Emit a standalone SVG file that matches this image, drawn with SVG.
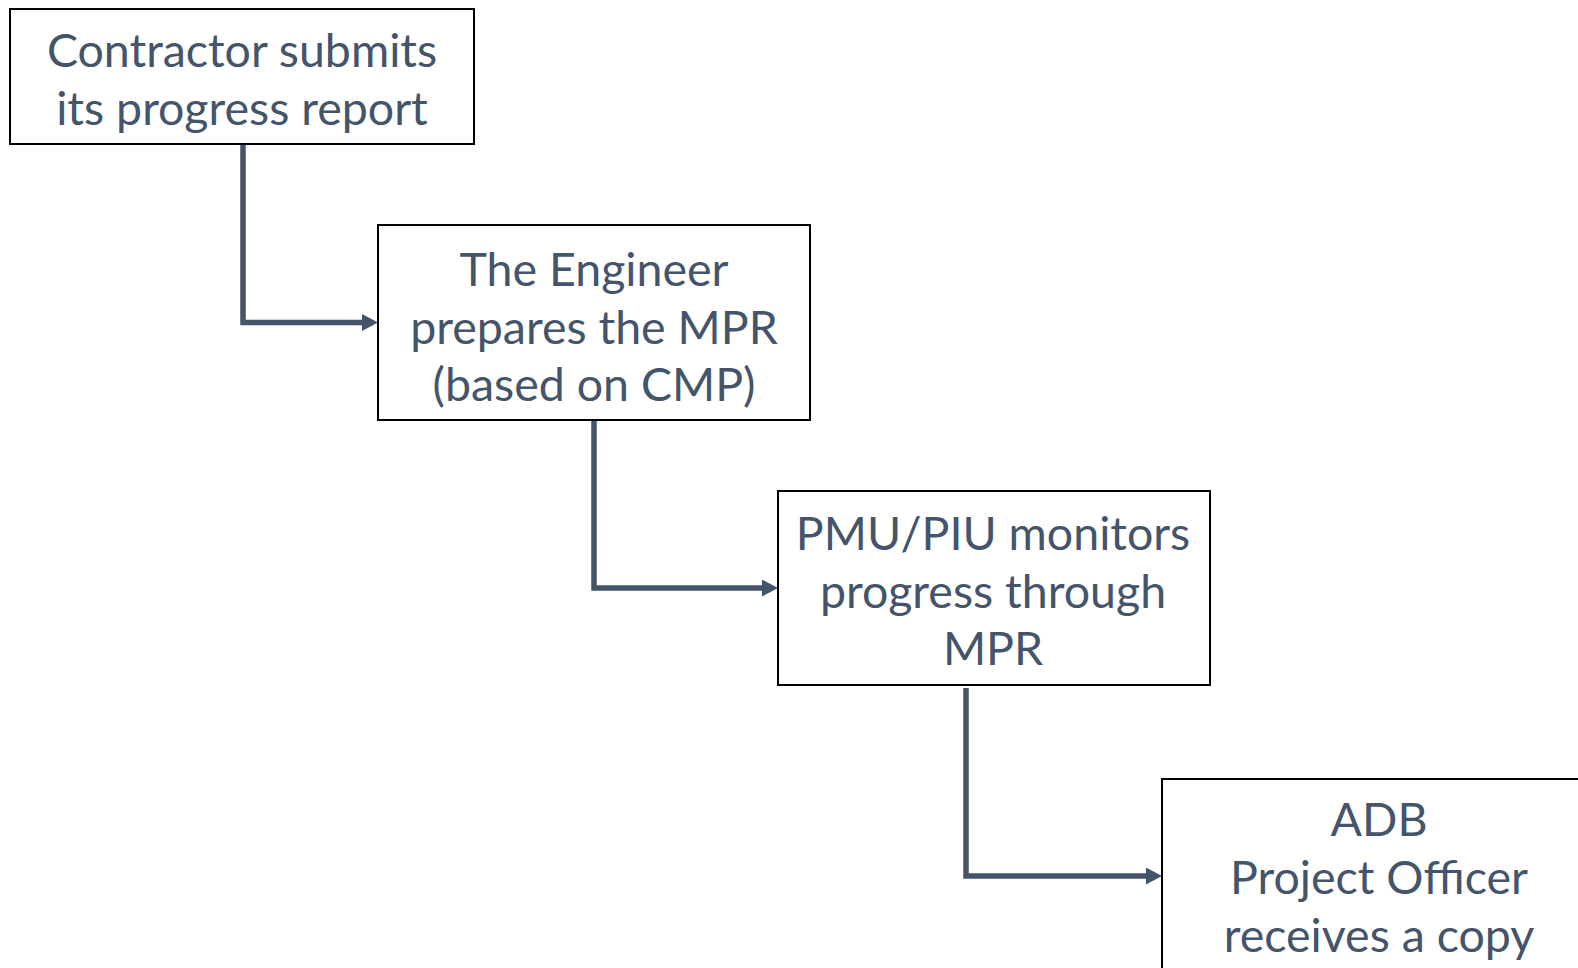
<svg xmlns="http://www.w3.org/2000/svg" width="1578" height="968" viewBox="0 0 1578 968">
  <style>
    .box { fill: #ffffff; stroke: #000000; stroke-width: 2; }
    .label { font-family: Lato, "Open Sans", "Liberation Sans", sans-serif; font-size: 46.5px; fill: #44546a; text-anchor: middle; }
  </style>
  <defs>
    <!-- arrowhead placed beyond the line end so its tip meets the box edge -->
    <marker id="arrow" viewBox="0 0 16 17" refX="0" refY="8.5" markerWidth="16" markerHeight="17" orient="auto" markerUnits="userSpaceOnUse">
      <path d="M0,0 L16,8.5 L0,17 Z" fill="#44546a"/>
    </marker>
  </defs>
  <rect width="1578" height="968" fill="#ffffff"/>

  <g id="connectors" fill="none" stroke="#44546a" stroke-width="5.5">
    <path d="M243,144 V322.5 H362" marker-end="url(#arrow)"/>
    <path d="M594,420 V588 H762" marker-end="url(#arrow)"/>
    <path d="M966,688 V876 H1146" marker-end="url(#arrow)"/>
  </g>

  <g id="node-contractor">
    <rect class="box" x="10" y="9" width="464" height="135"/>
    <text class="label" x="242" y="67">Contractor submits</text>
    <text class="label" x="242" y="125">its progress report</text>
  </g>

  <g id="node-engineer">
    <rect class="box" x="378" y="225" width="432" height="195"/>
    <text class="label" x="594" y="286">The Engineer</text>
    <text class="label" x="594" y="344">prepares the MPR</text>
    <text class="label" x="594" y="401">(based on CMP)</text>
  </g>

  <g id="node-pmu">
    <rect class="box" x="778" y="491" width="432" height="194"/>
    <text class="label" x="993" y="550">PMU/PIU monitors</text>
    <text class="label" x="993" y="608">progress through</text>
    <text class="label" x="993" y="665">MPR</text>
  </g>

  <g id="node-adb">
    <rect class="box" x="1162" y="779" width="440" height="220"/>
    <text class="label" x="1379" y="836">ADB</text>
    <text class="label" x="1379" y="894">Project Officer</text>
    <text class="label" x="1379" y="952">receives a copy</text>
  </g>
</svg>
